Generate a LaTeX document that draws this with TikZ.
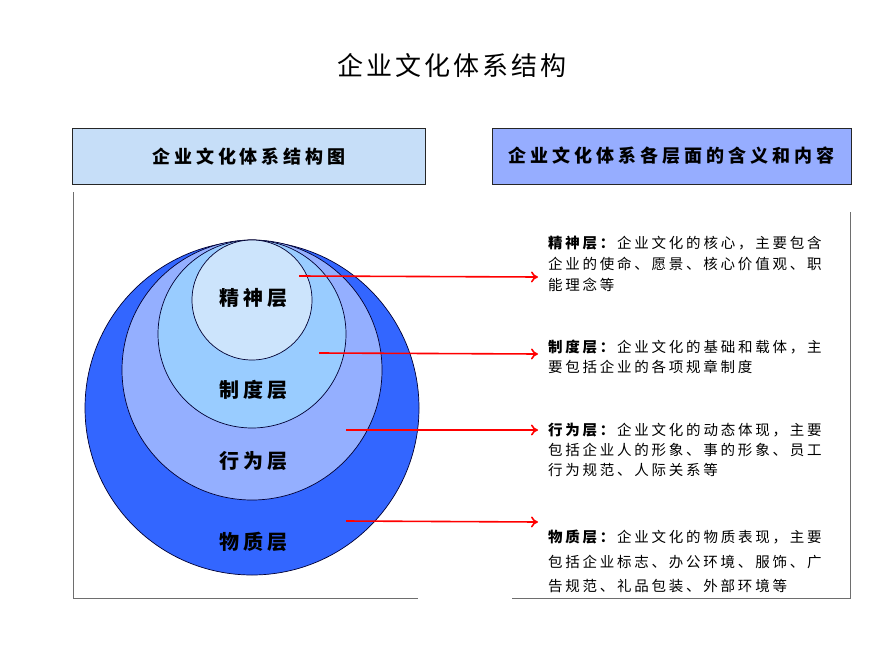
\documentclass[tikz,border=0pt]{standalone}
\usepackage{fontspec}
\usetikzlibrary{arrows.meta}
\newfontfamily\cjktitle[LetterSpace=12]{Noto Sans CJK SC}
\newfontfamily\cjkhead[LetterSpace=22]{Noto Sans CJK SC}
\newfontfamily\cjklabel[LetterSpace=20]{Noto Sans CJK SC}
\newfontfamily\cjkbody[LetterSpace=19]{Noto Sans CJK SC}
\definecolor{outerblue}{RGB}{51,102,255}
\definecolor{midblue}{RGB}{148,175,255}
\definecolor{lightblue}{RGB}{153,204,255}
\definecolor{paleblue}{RGB}{204,228,252}
\definecolor{headleft}{RGB}{198,222,248}
\definecolor{headright}{RGB}{150,173,255}
\definecolor{framegray}{RGB}{110,110,110}
\tikzset{
  ring/.style={circle, draw=black!80!blue, line width=0.7pt, inner sep=0pt},
  headbox/.style={draw=black!85, line width=0.9pt, minimum width=#1, minimum height=56pt, inner sep=0pt, font=\cjkhead\fontsize{18}{20}\selectfont\bfseries},
  layerlabel/.style={font=\cjklabel\fontsize{20}{22}\selectfont\bfseries},
  bodyline/.style={anchor=west, inner sep=0pt, font=\cjkbody\fontsize{14.5}{16}\selectfont},
  pointer/.style={draw=red, line width=1.6pt, -{To[length=7pt,width=11pt]}},
  frameline/.style={draw=framegray, line width=0.8pt}
}
\begin{document}
\begin{tikzpicture}[x=1pt,y=-1pt]
\useasboundingbox (0,0) rectangle (888,666);
\fill[white] (0,0) rectangle (888,666);
% title
\node[font=\cjktitle\fontsize{26}{28}\selectfont] (title) at (452,66) {企业文化体系结构};
% header boxes
\node[headbox=353pt, fill=headleft] (hleft) at (249,156.5) {企业文化体系结构图};
\node[headbox=359pt, fill=headright] (hright) at (671.5,156) {企业文化体系各层面的含义和内容};
% frames
\draw[frameline] (73,192) -- (73,598) -- (418,598);
\draw[frameline] (850,212) -- (850,598) -- (512,598);
% circles
\node[ring, fill=outerblue, minimum size=334pt] (c4) at (252,408) {};
\node[ring, fill=midblue, minimum size=260pt] (c3) at (252,370) {};
\node[ring, fill=lightblue, minimum size=188pt] (c2) at (252,334) {};
\node[ring, fill=paleblue, minimum size=120pt] (c1) at (252,300) {};
% labels
\node[layerlabel] (l1) at (253,298) {精神层};
\node[layerlabel] (l2) at (253,390) {制度层};
\node[layerlabel] (l3) at (253,461) {行为层};
\node[layerlabel] (l4) at (253,542) {物质层};
% text blocks
\node[bodyline] (t11) at (548,243) {\textbf{精神层：}企业文化的核心，主要包含};
\node[bodyline] (t12) at (548,264) {企业的使命、愿景、核心价值观、职};
\node[bodyline] (t13) at (548,285) {能理念等};
\node[bodyline] (t21) at (548,347) {\textbf{制度层：}企业文化的基础和载体，主};
\node[bodyline] (t22) at (548,367) {要包括企业的各项规章制度};
\node[bodyline] (t31) at (548,430) {\textbf{行为层：}企业文化的动态体现，主要};
\node[bodyline] (t32) at (548,450) {包括企业人的形象、事的形象、员工};
\node[bodyline] (t33) at (548,470) {行为规范、人际关系等};
\node[bodyline] (t41) at (548,537) {\textbf{物质层：}企业文化的物质表现，主要};
\node[bodyline] (t42) at (548,562) {包括企业标志、办公环境、服饰、广};
\node[bodyline] (t43) at (548,586) {告规范、礼品包装、外部环境等};
% arrows
\coordinate (a1s) at (299,276); \coordinate (a1e) at (538,277);
\coordinate (a2s) at (319,353); \coordinate (a2e) at (538,354);
\coordinate (a3s) at (346,430); \coordinate (a3e) at (538,430);
\coordinate (a4s) at (346,521); \coordinate (a4e) at (538,522);
\draw[pointer] (a1s) -- (a1e);
\draw[pointer] (a2s) -- (a2e);
\draw[pointer] (a3s) -- (a3e);
\draw[pointer] (a4s) -- (a4e);
\end{tikzpicture}
\end{document}
